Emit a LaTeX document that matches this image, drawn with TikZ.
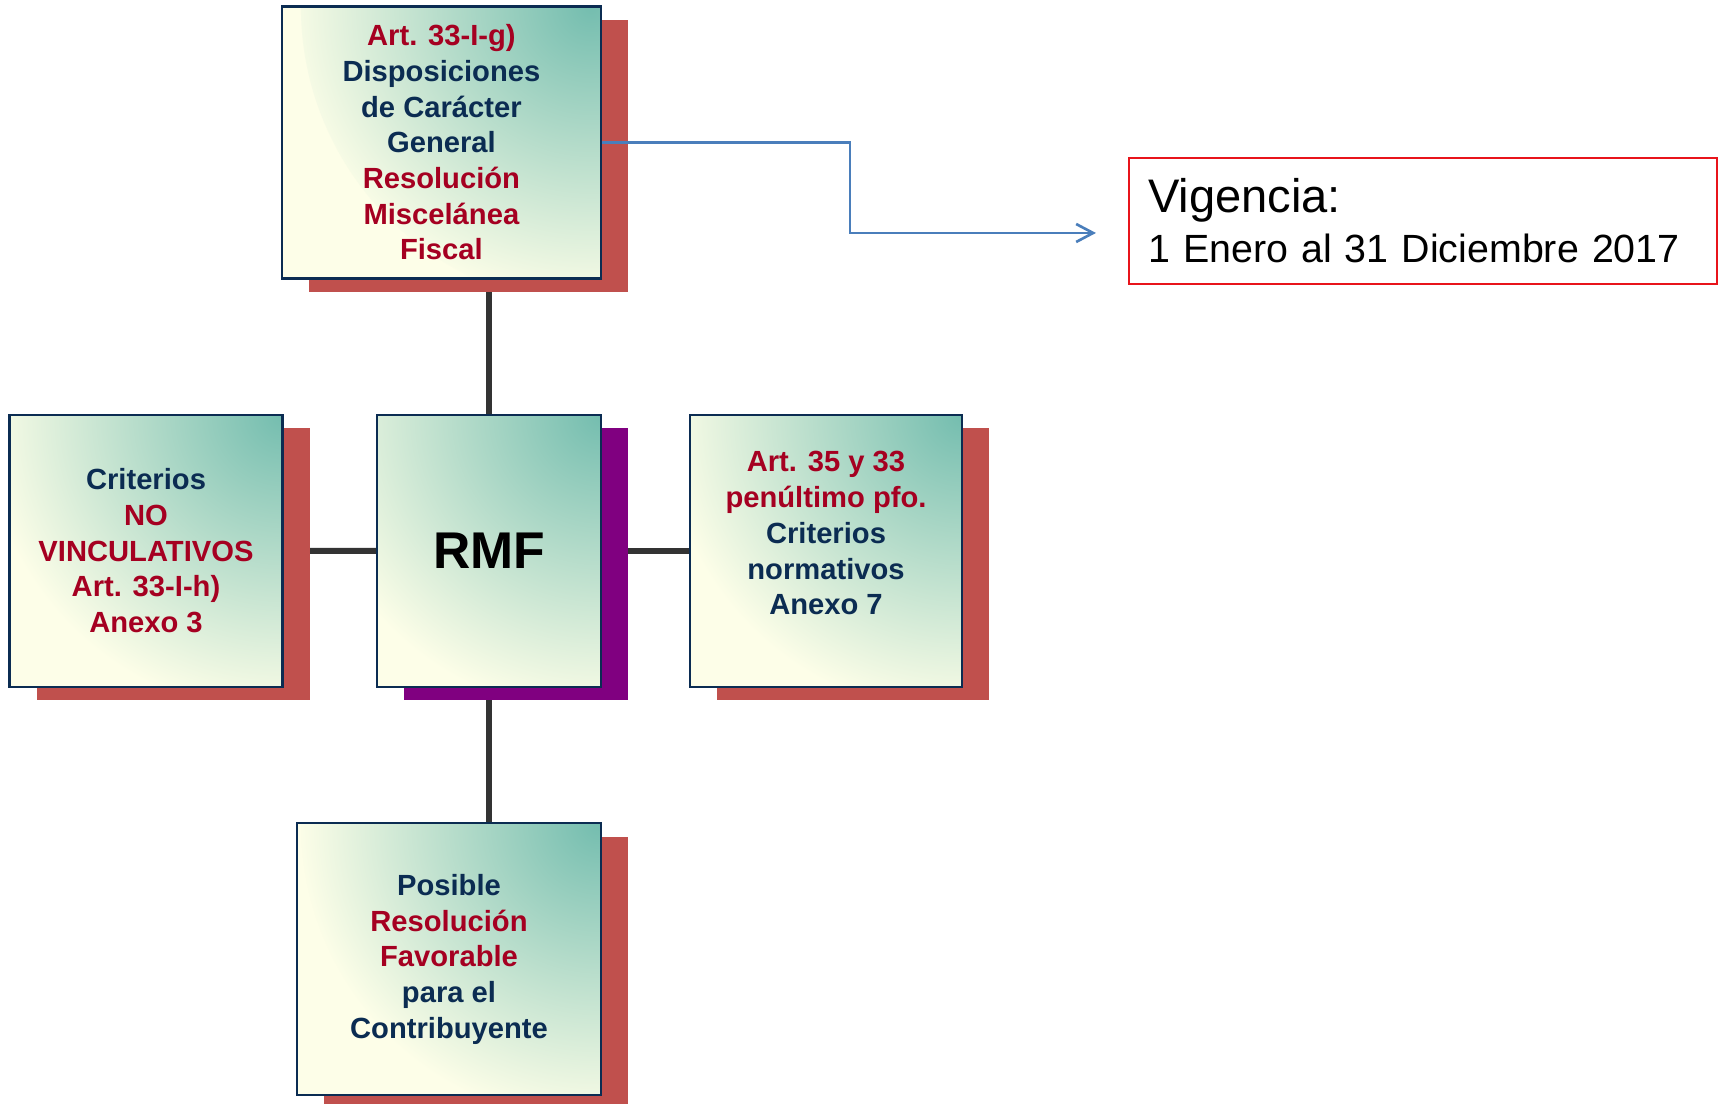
\documentclass[tikz,border=0pt]{standalone}
\usepackage{fontspec}
\setmainfont{Liberation Sans}
\usetikzlibrary{arrows.meta,shadows,backgrounds,calc}
\definecolor{NInk}{HTML}{0B2C52}
\definecolor{RWine}{HTML}{A50021}
\definecolor{SBrick}{HTML}{C0504D}
\definecolor{PPlum}{HTML}{800080}
\definecolor{TTeal}{HTML}{74BDAF}
\definecolor{CCream}{HTML}{FDFEE8}
\definecolor{LGrey}{HTML}{333333}
\definecolor{BSteel}{HTML}{4A7EBB}
\definecolor{RFlag}{HTML}{E8141B}
\newcommand{\rw}{\color{RWine}}
\tikzset{
    box/.style = {draw=NInk, line width=0.6pt, fill=CCream, rectangle,
        inner sep=0pt, minimum height=2.72cm, align=center, text=NInk,
        font=\bfseries\fontsize{8.3}{10.15}\selectfont,
        path picture={\shade[inner color=TTeal, outer color=CCream]
            (path picture bounding box.north east) circle (3cm);},
        drop shadow={shadow xshift=0.27cm, shadow yshift=-0.135cm,
            fill=#1, opacity=1}},
    box/.default = SBrick,
    link/.style = {draw=LGrey, line width=1.7pt},
    arrow/.style = {draw=BSteel, line width=0.75pt,
        -{Straight Barb[length=1.7mm,width=1.8mm]}},
    note/.style = {draw=RFlag, line width=0.6pt, rectangle,
        minimum width=5.88cm, minimum height=1.26cm, text width=5.5cm,
        inner xsep=0.19cm, align=left, font=\fontsize{11.2}{14.2}\selectfont}
}

\begin{document}
\begin{tikzpicture}
    \useasboundingbox (0,0) rectangle (17.18,-11.04);
    % boxes round RMF
    \node[box, minimum width=3.19cm] (top) at (4.414,-1.425)
        {\rw Art. 33-I-g)\\ Disposiciones\\ de Carácter\\ General\\
         \rw Resolución\\ \rw Miscelánea\\ \rw Fiscal};
    \node[box, minimum width=2.73cm] (left) at (1.46,-5.507)
        {Criterios\\ \rw NO\\ \rw VINCULATIVOS\\ \rw Art. 33-I-h)\\ \rw Anexo 3};
    \node[box=PPlum, minimum width=2.24cm,
        font=\bfseries\fontsize{14.7}{17}\selectfont, text=black] (rmf) at (4.89,-5.51) {RMF};
    \node[box, minimum width=2.72cm] (right) at (8.26,-5.51)
        {\rw Art. 35 y 33\\ \rw penúltimo pfo.\\ Criterios\\ normativos\\ Anexo 7\\ \mbox{}};
    \node[box, minimum width=3.04cm] (bottom) at (4.49,-9.592)
        {Posible\\ \rw Resolución\\ \rw Favorable\\ para el\\ Contribuyente};
    \node[note] (vig) at (14.23,-2.21)
        {{\fontsize{13.4}{16}\selectfont Vigencia:}\\
         1 Enero al 31 Diciembre 2017};

    \begin{scope}[on background layer]
        \draw[link] (rmf.north) -- (rmf.north |- top.south);
        \draw[link] (rmf.south) -- (rmf.south |- bottom.north);
        \draw[link] (left) -- (rmf);
        \draw[link] (rmf) -- (right);
    \end{scope}

    \coordinate (tip) at ([xshift=-0.32cm]vig.west |- 0,-2.33);
    \draw[arrow] (top.east) -- ++(2.48,0) |- (tip);
\end{tikzpicture}
\end{document}
